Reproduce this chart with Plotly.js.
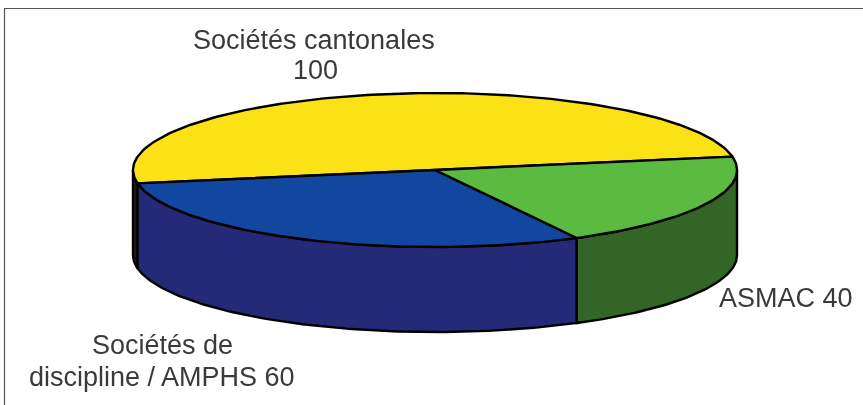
<!DOCTYPE html>
<html><head><meta charset="utf-8">
<script src="https://cdn.plot.ly/plotly-3.0.1.min.js"></script>
<style>html,body{margin:0;padding:0;background:#fff}#c{width:863px;height:405px;filter:blur(0.55px)}</style>
</head><body><div id="c"></div>
<script>
const categories = ["Sociétés cantonales", "Sociétés de discipline / AMPHS", "ASMAC"];
const values = [100, 60, 40];
const topColors = ["#fbe115", "#12479f", "#5abb40"];
const wallColors = ["#1c1c10", "#252a78", "#336626"];
const labelLines = ["Sociétés cantonales", "100", "Sociétés de", "discipline / AMPHS 60", "ASMAC 40"];
const labelX = [314, 315, 162, 162, 786];
const labelY = [40, 70, 345, 377, 298];

const cx = 435, cy = 170, rx = 302, ry = 77, depth = 85, startAngle = 10;
const total = values.reduce((a, b) => a + b, 0);
const rad = d => d * Math.PI / 180;
const px = a => cx + rx * Math.cos(rad(a));
const py = (a, dz) => cy - ry * Math.sin(rad(a)) + (dz || 0);
function arc(a0, a1, dz) {
  const xs = [], ys = [], n = Math.max(2, Math.ceil(Math.abs(a1 - a0)));
  for (let i = 0; i <= n; i++) { const a = a0 + (a1 - a0) * i / n; xs.push(px(a)); ys.push(py(a, dz)); }
  return [xs, ys];
}
const lineStyle = {color: "#000", width: 2.4};
const walls = [], tops = [];
let ang = startAngle;
values.forEach((v, i) => {
  const a0 = ang, a1 = ang + v / total * 360; ang = a1;
  // visible outer wall: the part of the slice on the front half of the ellipse
  const w0 = Math.max(a0, 180), w1 = Math.min(a1, 360);
  const sp = i === 0 ? [[180, w1]] : [[w0, w1]];
  sp.forEach(([s, e]) => {
    if (e > s) {
      const t = arc(s, e, 0), b = arc(e, s, depth);
      walls.push({type: "scatter", mode: "lines", fill: "toself", fillcolor: wallColors[i], name: categories[i],
        x: t[0].concat(b[0], [t[0][0]]), y: t[1].concat(b[1], [t[1][0]]), line: lineStyle, hoverinfo: "skip", showlegend: false});
    }
  });
  const t = arc(a0, a1, 0);
  tops.push({type: "scatter", mode: "lines", fill: "toself", fillcolor: topColors[i], name: categories[i],
    x: [cx].concat(t[0], [cx]), y: [cy].concat(t[1], [cy]), line: lineStyle, hoverinfo: "skip", showlegend: false});
});
const annotations = labelLines.map((l, i) => ({
  x: labelX[i], y: labelY[i], xref: "x", yref: "y", showarrow: false, align: "center",
  text: l, font: {family: "Liberation Sans, Arial, sans-serif", size: 27, color: "#3a3a3a"}
}));
const layout = {
  width: 863, height: 405, margin: {l: 0, r: 0, t: 0, b: 0}, paper_bgcolor: "#fff", plot_bgcolor: "#fff", showlegend: false,
  xaxis: {range: [0, 863], visible: false, fixedrange: true},
  yaxis: {range: [405, 0], visible: false, fixedrange: true},
  annotations,
  shapes: [{type: "path", xref: "x", yref: "y", path: "M 4.5 405 L 4.5 8.5 L 863 8.5", line: {color: "#555", width: 1.2}}]
};
Plotly.newPlot("c", walls.concat(tops), layout, {displayModeBar: false, staticPlot: true});
</script></body></html>
